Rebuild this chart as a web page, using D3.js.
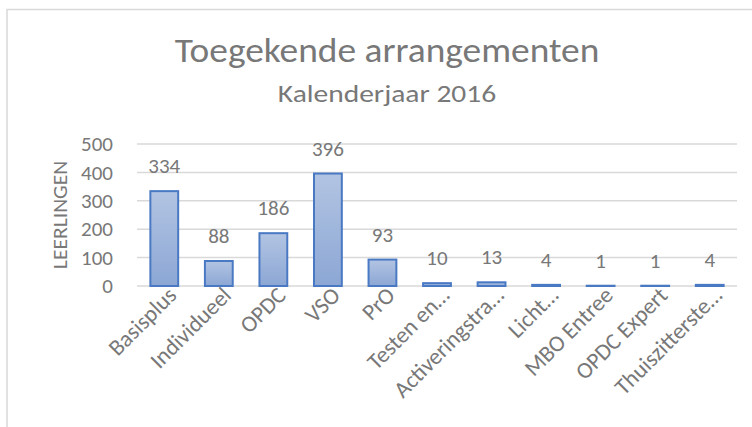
<!DOCTYPE html>
<html>
<head>
<meta charset="utf-8">
<script src="https://cdn.jsdelivr.net/npm/d3@7"></script>
<style>
  html, body { margin: 0; padding: 0; background: #ffffff; }
  svg { display: block; }
  text { font-family: Carlito, Calibri, Lato, sans-serif; fill: #787878; }
</style>
</head>
<body>
<svg id="chart" width="752" height="427"></svg>
<script>
// ---- data ----
const categories = ["Basisplus", "Individueel", "OPDC", "VSO", "PrO", "Testen en…", "Activeringstra…", "Licht…", "MBO Entree", "OPDC Expert", "Thuiszitterste…"];
const values = [334, 88, 186, 396, 93, 10, 13, 4, 1, 1, 4];
const yTicks = [0, 100, 200, 300, 400, 500];
const titleText = "Toegekende arrangementen";
const subtitleText = "Kalenderjaar 2016";
const yAxisTitle = "LEERLINGEN";

// ---- layout ----
const W = 752, H = 427;
const plot = { left: 137, right: 737, top: 144, bottom: 286 };
const FONT = "Carlito, Calibri, Lato, sans-serif";
const TXT = "#787878";

const svg = d3.select("#chart");

// gradient
const defs = svg.append("defs");
const grad = defs.append("linearGradient").attr("id", "barGrad")
  .attr("x1", 0).attr("y1", 0).attr("x2", 0).attr("y2", 1);
grad.append("stop").attr("offset", "0%").attr("stop-color", "#b2c4e2");
grad.append("stop").attr("offset", "100%").attr("stop-color", "#8ca7d5");

// chart border
svg.append("rect")
  .attr("x", 7).attr("y", 9.5)
  .attr("width", 780).attr("height", 440)
  .attr("fill", "#ffffff")
  .attr("stroke", "#d9d9d9").attr("stroke-width", 1.5);

// titles
const cx = (7 + 767) / 2;
svg.append("text").attr("transform", `translate(${cx},62) scale(1.1,1)`)
  .attr("text-anchor", "middle").style("font-size", "34px")
  .text(titleText);
svg.append("text").attr("transform", `translate(${cx},102) scale(1.18,1)`)
  .attr("text-anchor", "middle").style("font-size", "25px")
  .text(subtitleText);

// scales
const x = d3.scaleBand().domain(categories).range([plot.left, plot.right]).padding(0);
const y = d3.scaleLinear().domain([0, 500]).range([plot.bottom, plot.top]);

// gridlines
svg.append("g").selectAll("line").data(yTicks).join("line")
  .attr("x1", plot.left).attr("x2", plot.right)
  .attr("y1", d => y(d)).attr("y2", d => y(d))
  .attr("stroke", "#d9d9d9").attr("stroke-width", 1.5);

// y axis (labels only)
const yAxis = d3.axisLeft(y).tickValues(yTicks).tickSize(0).tickPadding(0);
const gy = svg.append("g").attr("transform", `translate(${plot.left - 24},0)`).call(yAxis);
gy.select(".domain").remove();
gy.selectAll("text").style("font-size", "21px").attr("fill", TXT)
  .style("font-family", FONT);

// y axis title
svg.append("text")
  .attr("transform", `translate(67,${(plot.top + plot.bottom) / 2}) rotate(-90) scale(1.08,1)`)
  .attr("text-anchor", "middle").style("font-size", "20px")
  .text(yAxisTitle);

// bars
const barW = x.bandwidth() * 0.51;
svg.append("g").selectAll("rect").data(values).join("rect")
  .attr("x", (d, i) => x(categories[i]) + (x.bandwidth() - barW) / 2)
  .attr("y", d => y(d))
  .attr("width", barW)
  .attr("height", d => y(0) - y(d))
  .attr("fill", "url(#barGrad)")
  .attr("stroke", "#4a79c4").attr("stroke-width", 2);

// data labels
svg.append("g").selectAll("text").data(values).join("text")
  .attr("x", (d, i) => x(categories[i]) + x.bandwidth() / 2)
  .attr("y", d => y(d) - 18)
  .attr("text-anchor", "middle").style("font-size", "21px")
  .text(d => d);

// x axis labels
const xAxis = d3.axisBottom(x).tickSize(0).tickPadding(0);
const gx = svg.append("g").attr("transform", `translate(0,${plot.bottom})`).call(xAxis);
gx.select(".domain").remove();
gx.selectAll("text")
  .style("font-size", "23px").attr("fill", TXT)
  .style("font-family", FONT)
  .attr("text-anchor", "end")
  .attr("dy", "0.72em")
  .attr("transform", "translate(2,-1) rotate(-45)");
</script>
</body>
</html>
